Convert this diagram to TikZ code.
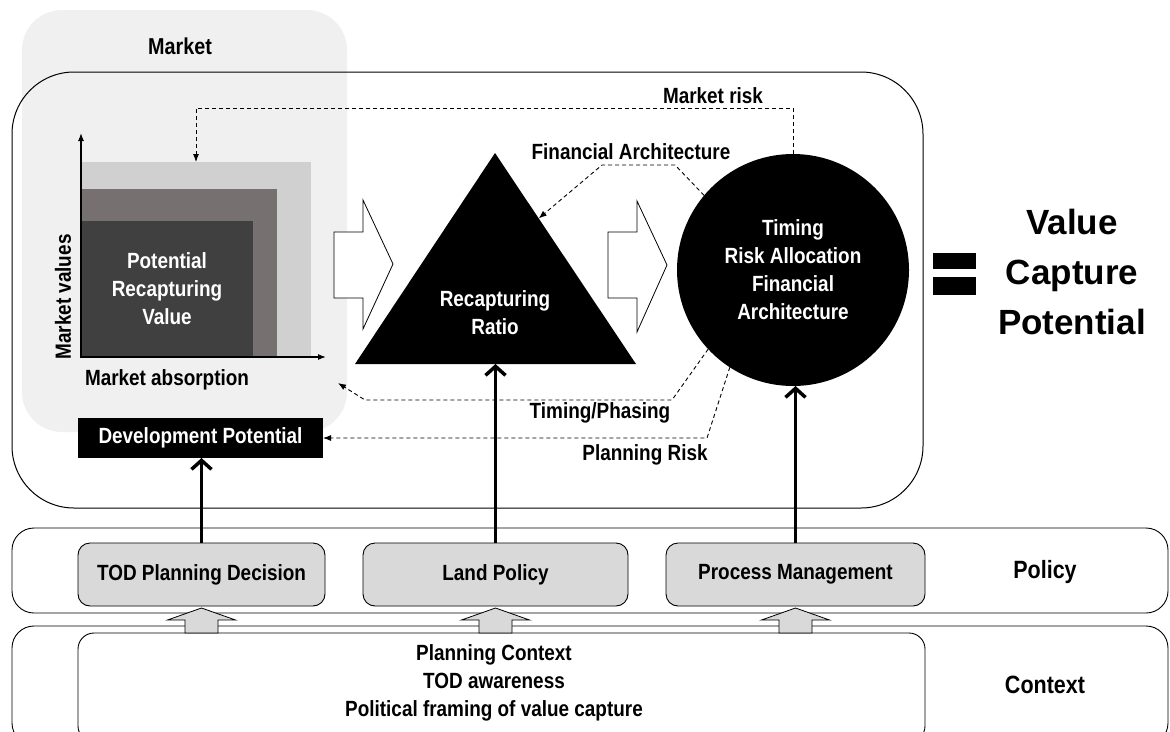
\documentclass[tikz,border=0pt]{standalone}
\usepackage{fontspec}
\setmainfont{Liberation Sans}[FakeStretch=0.86]
\newfontfamily\bigfont{Liberation Sans}
\usetikzlibrary{positioning, arrows.meta, calc}
\definecolor{marketbg}{RGB}{240,240,240}
\definecolor{sqlightc}{RGB}{208,208,208}
\definecolor{sqmidc}{RGB}{118,112,112}
\definecolor{sqdarkc}{RGB}{64,64,64}
\definecolor{policyc}{RGB}{217,217,217}
\tikzset{
every node/.style={font=\bfseries\fontsize{22}{28}\selectfont, align=center, inner sep=0pt, outer sep=0pt}, % bold labels everywhere
panel/.style={draw, line width=0.9pt, fill=white}, % the big rounded boxes
square/.style={anchor=south west, minimum width=#1}, % nested squares on the axes
policybox/.style={draw, line width=0.9pt, fill=policyc, rounded corners=12pt, minimum height=63pt}, % the three policy instruments
riskline/.style={dash pattern=on 4pt off 3pt, line width=0.9pt, -{Latex[length=8pt,width=6pt]}}, % feedback of risks
axis/.style={line width=1.2pt, -{Latex[length=8pt,width=6pt]}}, % market axes
thickarrow/.style={line width=3.5pt, -{Straight Barb[length=9pt,width=20pt]}}, % policy acts on the model
flowarrow/.style={draw, line width=0.8pt, fill=white}, % open block arrows
liftarrow/.style={draw, line width=0.8pt, fill=policyc}, % context feeds policy
}

\begin{document}
\begin{tikzpicture}[x=1pt, y=-1pt]
    \clip (0,0) rectangle (1170,731);

    % market area and value capture frame
    \node[fill=marketbg, rounded corners=40pt, minimum width=325pt, minimum height=422pt] (market) at (184.5,221) {};
    \node[font=\bfseries\fontsize{23}{28}\selectfont] (markettitle) at (180,46) {Market};
    \node[draw, line width=1pt, rounded corners=62pt, minimum width=911pt, minimum height=436pt] (frame) at (467.5,290) {};

    % nested market squares
    \node[square=230pt, fill=sqlightc, minimum height=195pt] (sqlight) at (81,357) {};
    \node[square=196pt, fill=sqmidc, minimum height=168pt] (sqmid) at (81,357) {};
    \node[square=172pt, fill=sqdarkc, minimum height=136pt] (sqdark) at (81,357) {};
    \node[text=white] (prv) at (sqdark.center) {Potential\\Recapturing\\Value};
    \draw[axis] (81,358) -- (81,133);
    \draw[axis] (80,357) -- (326,357);
    \node[rotate=90] (mvalues) at (63,297) {Market values};
    \node (mabsorb) at (167,380) {Market absorption};
    \coordinate (mabsorbtip) at (338,383);
    \node[fill=black, text=white, minimum width=245pt, minimum height=40pt] (devpot) at (200.5,438) {Development Potential};

    % recapturing ratio
    \coordinate (apex) at (495,153);
    \coordinate (bl) at (355,364);
    \coordinate (br) at (636,364);
    \fill (apex) -- (br) -- (bl) -- cycle;
    \node[text=white] (ratio) at (495,313) {Recapturing\\Ratio};

    \draw[flowarrow] (334,232) -- (363,232) -- (363,200) -- (393,264) -- (363,329) -- (363,298) -- (334,298) -- cycle;
    \draw[flowarrow] (608,232) -- (637,232) -- (637,201) -- (667,265) -- (637,332) -- (637,298) -- (608,298) -- cycle;

    % process management
    \node[circle, fill=black, text=white, minimum size=232pt] (mgmt) at (793,270) {Timing\\Risk Allocation\\Financial\\Architecture};

    \draw[riskline] (mgmt.north) -- (793,108) -| (sqlight.north);
    \node (mrisk) at (713,96) {Market risk};
    \draw[riskline] (mgmt.140) -- (675,165) -- (602,165) -- ($(apex)!0.31!(br)$);
    \node (finarch) at (631,152) {Financial Architecture};
    \draw[riskline] (mgmt.223) -- (672,400) -- (365,400) -- (mabsorbtip);
    \node (timing) at (600,413) {Timing/Phasing};
    \draw[riskline] (mgmt.237) -- (707,438) -- (devpot.east);
    \node (prisk) at (645,455) {Planning Risk};

    % result
    \fill (933,253) rectangle (976,269);
    \fill (933,277) rectangle (976,295);
    \node[font=\bigfont\bfseries\fontsize{35}{50}\selectfont] (vcp) at (1072,272) {Value\\Capture\\Potential};

    % policy and context layers
    \node[panel, rounded corners=22pt, minimum width=1156pt, minimum height=85pt] (policy) at (590,570.5) {};
    \node[panel, rounded corners=22pt, minimum width=1156pt, minimum height=119pt] (context) at (590,685.5) {};
    \node[policybox, minimum width=247pt] (tod) at (201.5,574.5) {TOD Planning Decision};
    \node[policybox, minimum width=265pt] (land) at (495.5,574.5) {Land Policy};
    \node[policybox, minimum width=259pt] (proc) at (795.5,574.5) {Process Management};
    \node[panel, rounded corners=16pt, minimum width=847pt, minimum height=109pt] (ctxbox) at (501.5,687.5) {};
    \node (ctxtext) at (494,683) {Planning Context\\TOD awareness\\Political framing of value capture};
    \node[font=\bfseries\fontsize{25}{28}\selectfont] (policylabel) at (1045,572) {Policy};
    \node[font=\bfseries\fontsize{25}{28}\selectfont] (contextlabel) at (1045,685) {Context};

    \draw[liftarrow] (tod.south |- ctxbox.north) ++(-16.5,0) -- ++(0,-13) -- ++(-17.5,0) -- ++(34,-12) -- ++(34,12) -- ++(-17.5,0) -- ++(0,13) -- cycle;
    \draw[liftarrow] (land.south |- ctxbox.north) ++(-16.5,0) -- ++(0,-13) -- ++(-17.5,0) -- ++(34,-12) -- ++(34,12) -- ++(-17.5,0) -- ++(0,13) -- cycle;
    \draw[liftarrow] (proc.south |- ctxbox.north) ++(-16.5,0) -- ++(0,-13) -- ++(-17.5,0) -- ++(34,-12) -- ++(34,12) -- ++(-17.5,0) -- ++(0,13) -- cycle;

    \draw[thickarrow] (tod.north) -- (tod.north |- devpot.south);
    \draw[thickarrow] (land.north) -- (land.north |- bl);
    \draw[thickarrow] (proc.north) -- (proc.north |- mgmt.south);
\end{tikzpicture}
\end{document}
